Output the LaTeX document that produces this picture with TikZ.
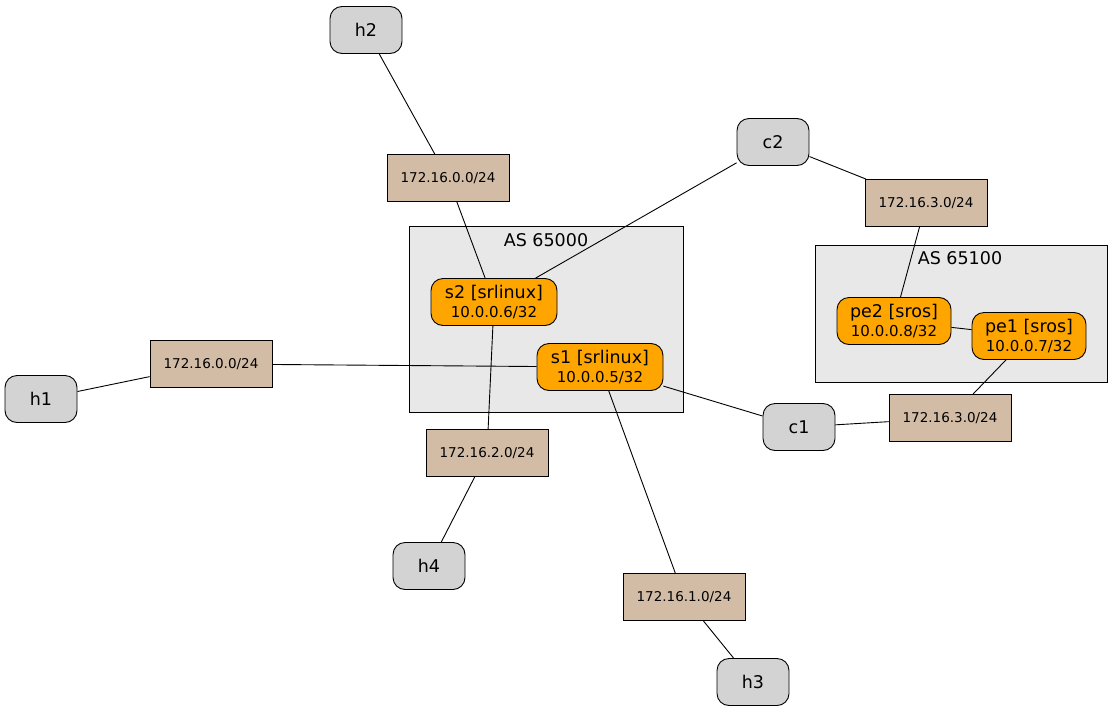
\documentclass[tikz,border=0pt]{standalone}
\usepackage{fontspec}
\setmainfont{DejaVu Sans}
\usetikzlibrary{positioning}
\definecolor{nodeorange}{RGB}{255,165,0}
\definecolor{nettan}{RGB}{210,188,166}
\definecolor{hostgray}{RGB}{211,211,211}
\definecolor{asgray}{RGB}{232,232,232}
\tikzset{
  every path/.style={line width=0.9pt},
  host/.style={draw,fill=hostgray,rounded corners=12pt,minimum width=72pt,minimum height=47pt,font=\fontsize{17.5}{20}\selectfont,inner sep=0pt},
  router/.style={draw,fill=nodeorange,rounded corners=12pt,minimum height=47pt,font=\fontsize{17.5}{20}\selectfont,align=center,inner sep=0pt},
  net/.style={draw,fill=nettan,minimum width=122pt,minimum height=47pt,font=\fontsize{13.5}{15}\selectfont,inner sep=0pt},
  as/.style={draw,fill=asgray}
}
\newcommand{\rlabel}[2]{#1\\[-1pt]{\fontsize{15}{17}\selectfont #2}}
\begin{document}
\begin{tikzpicture}[x=1pt,y=-1pt]
\useasboundingbox (0,0) rectangle (1113,712);
% AS boxes
\draw[as] (409,226) rectangle (683,412);
\node[font=\fontsize{17.5}{20}\selectfont] (as1) at (546,240) {AS 65000};
\draw[as] (815,245) rectangle (1107,382);
\node[font=\fontsize{17.5}{20}\selectfont] (as2) at (960,258) {AS 65100};

% Routers
\node[router,minimum width=126pt] (s2) at (494,302) {\rlabel{s2 [srlinux]}{10.0.0.6/32}};
\node[router,minimum width=126pt] (s1) at (600,367) {\rlabel{s1 [srlinux]}{10.0.0.5/32}};
\node[router,minimum width=114pt] (pe2) at (894,321) {\rlabel{pe2 [sros]}{10.0.0.8/32}};
\node[router,minimum width=114pt] (pe1) at (1029,336) {\rlabel{pe1 [sros]}{10.0.0.7/32}};

% Hosts
\node[host] (h2) at (366,30) {h2};
\node[host] (c2) at (773,142) {c2};
\node[host] (h1) at (41,399) {h1};
\node[host] (c1) at (799,427) {c1};
\node[host] (h4) at (429,566) {h4};
\node[host] (h3) at (753,682) {h3};

% Subnets
\node[net] (n0a) at (448,178) {172.16.0.0/24};
\node[net] (n3a) at (926,203) {172.16.3.0/24};
\node[net] (n0b) at (211,364) {172.16.0.0/24};
\node[net] (n3b) at (950,418) {172.16.3.0/24};
\node[net] (n2) at (487,453) {172.16.2.0/24};
\node[net] (n1) at (684,597) {172.16.1.0/24};

% Links
\draw (h2) -- (n0a);
\draw (n0a) -- (s2);
\draw (s2) -- (c2);
\draw (c2) -- (n3a);
\draw (n3a) -- (pe2);
\draw (pe2) -- (pe1);
\draw (pe1) -- (n3b);
\draw (n3b) -- (c1);
\draw (c1) -- (s1);
\draw (s1) -- (n0b);
\draw (n0b) -- (h1);
\draw (s2) -- (n2);
\draw (n2) -- (h4);
\draw (s1) -- (n1);
\draw (n1) -- (h3);
\end{tikzpicture}
\end{document}
